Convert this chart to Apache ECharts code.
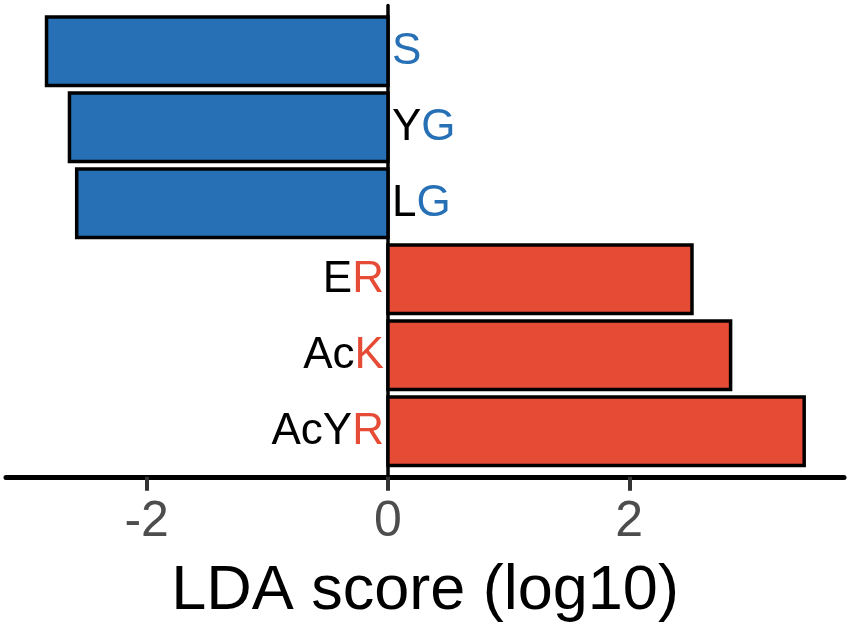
<!DOCTYPE html>
<html>
<head>
<meta charset="utf-8">
<script src="https://cdn.jsdelivr.net/npm/echarts@6/dist/echarts.min.js"></script>
<style>
html,body{margin:0;padding:0;background:#fff;}
#chart{width:851px;height:633px;}
</style>
</head>
<body>
<div id="chart"></div>
<script>
// Data (top to bottom)
const categories = ['S', 'YG', 'LG', 'ER', 'AcK', 'AcYR'];
const scores = [-2.83, -2.64, -2.58, 2.52, 2.84, 3.45];
const tickValues = [-2, 0, 2];
const axisTitle = 'LDA score (log10)';

const negColor = '#2770B5';
const posColor = '#E64B35';

const barData = scores.map((v, i) => [v, i + 1]);
const labelData = categories.map((c, i) => {
  const neg = scores[i] < 0;
  return {
    value: [0, i + 1],
    label: {
      position: neg ? 'right' : 'left',
      formatter: '{k|' + c.slice(0, -1) + '}{' + (neg ? 'n' : 'p') + '|' + c.slice(-1) + '}'
    }
  };
});

const chart = echarts.init(document.getElementById('chart'), null, {renderer: 'canvas'});
chart.setOption({
  backgroundColor: '#fff',
  animation: false,
  textStyle: {fontFamily: 'Liberation Sans'},
  grid: {left: 6, right: 7, top: 5.6, bottom: 156.2, containLabel: false},
  xAxis: {
    type: 'value',
    min: -3.166,
    max: 3.78,
    splitLine: {show: false},
    axisLine: {show: true, onZero: false, lineStyle: {color: '#000', width: 5}},
    axisTick: {show: true, length: 14, customValues: tickValues, lineStyle: {color: '#333', width: 4}},
    axisLabel: {customValues: tickValues, fontSize: 50, color: '#4D4D4D', margin: 20, fontFamily: 'Liberation Sans'},
    name: axisTitle,
    nameLocation: 'middle',
    nameGap: 83,
    nameTextStyle: {fontSize: 63, color: '#000', fontFamily: 'Liberation Sans'}
  },
  yAxis: {
    type: 'value',
    min: 0.4,
    max: 6.6,
    inverse: true,
    splitLine: {show: false},
    axisTick: {show: false},
    axisLabel: {show: false},
    axisLine: {show: true, onZero: true, lineStyle: {color: '#000', width: 3.5}}
  },
  series: [
    {
      type: 'custom',
      data: barData,
      encode: {x: 0, y: 1},
      renderItem: function (params, api) {
        const v = api.value(0);
        const idx = api.value(1);
        const p0 = api.coord([0, idx]);
        const p1 = api.coord([v, idx]);
        const h = api.size([0, 0.9])[1];
        return {
          type: 'rect',
          shape: {x: Math.min(p0[0], p1[0]), y: p0[1] - h / 2, width: Math.abs(p1[0] - p0[0]), height: h},
          style: {fill: v < 0 ? negColor : posColor, stroke: '#000', lineWidth: 3.5}
        };
      }
    },
    {
      type: 'scatter',
      data: labelData,
      symbolSize: 0,
      z: 5,
      itemStyle: {opacity: 1},
      emphasis: {disabled: true},
      label: {
        show: true,
        distance: 4,
        opacity: 1,
        offset: [0, 1],
        fontFamily: 'Liberation Sans',
        rich: {
          k: {fontSize: 44, color: '#000', fontFamily: 'Liberation Sans'},
          n: {fontSize: 44, color: negColor, fontFamily: 'Liberation Sans'},
          p: {fontSize: 44, color: posColor, fontFamily: 'Liberation Sans'}
        }
      }
    }
  ]
});
</script>
</body>
</html>
